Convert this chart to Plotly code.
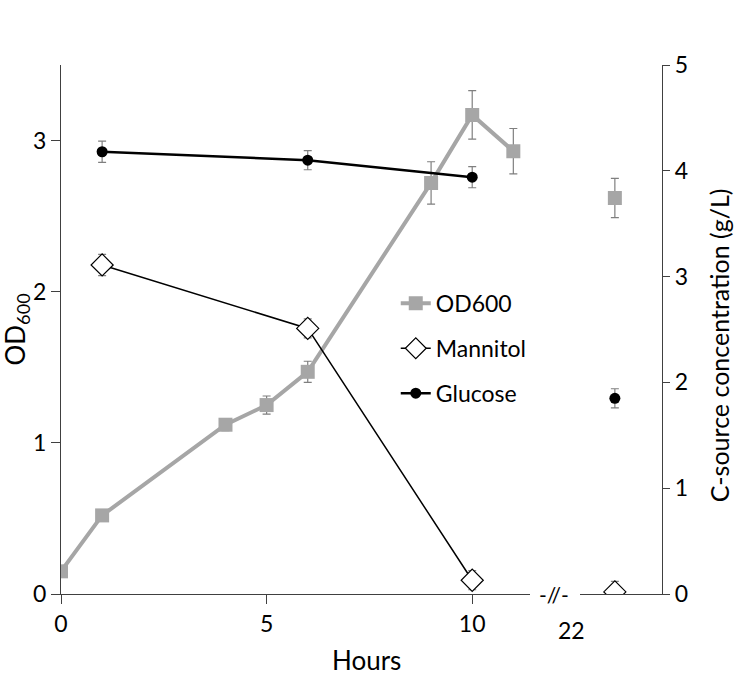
import plotly.graph_objects as go

# ---- data ----
hours = [0, 1, 4, 5, 6, 9, 10, 11]
od600 = [0.15, 0.52, 1.12, 1.25, 1.47, 2.72, 3.17, 2.93]
od600_err = [0.02, 0.03, 0.04, 0.06, 0.07, 0.14, 0.16, 0.15]

sugar_hours = [1, 6, 10]
mannitol = [3.11, 2.51, 0.13]
mannitol_err = [0.1, 0.09, 0.09]
glucose = [4.18, 4.10, 3.94]
glucose_err = [0.1, 0.09, 0.1]

late_hour = [22]
od600_late = [2.62]
od600_late_err = [0.13]
mannitol_late = [0.02]
mannitol_late_err = [0.1]
glucose_late = [1.85]
glucose_late_err = [0.09]

x_ticks = [0, 5, 10]
break_label = "22"
left_ticks = [0, 1, 2, 3]
right_ticks = [0, 1, 2, 3, 4, 5]

FONT = "Lato"
GREY = "#a6a6a6"
ERR = "#7f7f7f"
AX = "#404040"

fig = go.Figure()

def eb(arr):
    return dict(type="data", array=arr, color=ERR, thickness=1.2, width=4)

fig.add_trace(go.Scatter(x=hours, y=od600, error_y=eb(od600_err), name="OD600",
                         mode="lines+markers", legendgroup="od",
                         line=dict(color=GREY, width=4),
                         marker=dict(symbol="square", size=14, color=GREY),
                         xaxis="x", yaxis="y"))
fig.add_trace(go.Scatter(x=sugar_hours, y=mannitol, error_y=eb(mannitol_err), name="Mannitol",
                         mode="lines+markers", legendgroup="man",
                         line=dict(color="black", width=1.5),
                         marker=dict(symbol="diamond", size=17, color="white",
                                     line=dict(color="black", width=1.2)),
                         xaxis="x", yaxis="y2"))
fig.add_trace(go.Scatter(x=sugar_hours, y=glucose, error_y=eb(glucose_err), name="Glucose",
                         mode="lines+markers", legendgroup="glu",
                         line=dict(color="black", width=2.5),
                         marker=dict(symbol="circle", size=11, color="black"),
                         xaxis="x", yaxis="y2"))

# points after the axis break
fig.add_trace(go.Scatter(x=late_hour, y=od600_late, error_y=eb(od600_late_err), mode="markers",
                         legendgroup="od", showlegend=False,
                         marker=dict(symbol="square", size=14, color=GREY),
                         xaxis="x3", yaxis="y"))
fig.add_trace(go.Scatter(x=late_hour, y=mannitol_late, error_y=eb(mannitol_late_err), mode="markers",
                         legendgroup="man", showlegend=False,
                         marker=dict(symbol="diamond", size=17, color="white",
                                     line=dict(color="black", width=1.2)),
                         xaxis="x3", yaxis="y2"))
fig.add_trace(go.Scatter(x=late_hour, y=glucose_late, error_y=eb(glucose_late_err), mode="markers",
                         legendgroup="glu", showlegend=False,
                         marker=dict(symbol="circle", size=11, color="black"),
                         xaxis="x3", yaxis="y2"))

tickfont = dict(family=FONT, size=23, color="black")

fig.update_layout(
    template="none",
    width=739, height=675,
    margin=dict(l=61, r=77, t=65, b=81, autoexpand=False),
    plot_bgcolor="white", paper_bgcolor="white",
    font=dict(family=FONT, color="black"),
    xaxis=dict(domain=[0, 0.780], range=[0, 11.4], tickvals=x_ticks,
               ticks="outside", ticklen=9, tickcolor=AX, showline=True, linecolor=AX,
               linewidth=1.2, showgrid=False, zeroline=False, tickfont=tickfont,
               anchor="y", automargin=False),
    xaxis3=dict(domain=[0.8636, 1], range=[21.15, 23.15], tickvals=[],
                showline=True, linecolor=AX, linewidth=1.2, showgrid=False,
                zeroline=False, showticklabels=False, anchor="y", automargin=False),
    yaxis=dict(domain=[0, 1], range=[0, 3.5], tickvals=left_ticks, ticks="outside",
               ticklen=9, tickcolor=AX, showline=True, linecolor=AX, linewidth=1.2,
               showgrid=False, zeroline=False, tickfont=tickfont, anchor="x",
               automargin=False),
    yaxis2=dict(range=[0, 5], tickvals=right_ticks, overlaying="y", side="right",
                anchor="x3", ticks="outside", ticklen=7, tickcolor=AX, showline=True,
                linecolor=AX, linewidth=1.2, showgrid=False, zeroline=False,
                tickfont=tickfont, automargin=False),
    legend=dict(x=0.557, y=0.59, xanchor="left", yanchor="top",
                bgcolor="rgba(0,0,0,0)", font=dict(family=FONT, size=23, color="black"),
                tracegroupgap=12),
    annotations=[
        dict(text="-//-", x=0.820, y=0, xref="paper", yref="paper", showarrow=False,
             font=dict(family=FONT, size=21, color="black"), xanchor="center", yanchor="middle"),
        dict(text=break_label, x=0.850, y=0, xref="paper", yref="paper", showarrow=False,
             font=tickfont, xanchor="center", yanchor="top", yshift=-20),
        dict(text="Hours", x=0.5075, y=0, xref="paper", yref="paper", showarrow=False,
             font=dict(family=FONT, size=26, color="black"), xanchor="center",
             yanchor="top", yshift=-48),
        dict(text="OD<sub>600</sub>", x=0, y=0.5, xref="paper", yref="paper", showarrow=False,
             textangle=-90, font=dict(family=FONT, size=26, color="black"),
             xanchor="center", yanchor="middle", xshift=-45),
        dict(text="C-source concentration (g/L)", x=1, y=0.47, xref="paper", yref="paper",
             showarrow=False, textangle=-90, font=dict(family=FONT, size=25, color="black"),
             xanchor="center", yanchor="middle", xshift=57),
    ],
)

fig.write_html("out.html", config={"displayModeBar": False},
               post_script="document.body.style.margin='0px';")
